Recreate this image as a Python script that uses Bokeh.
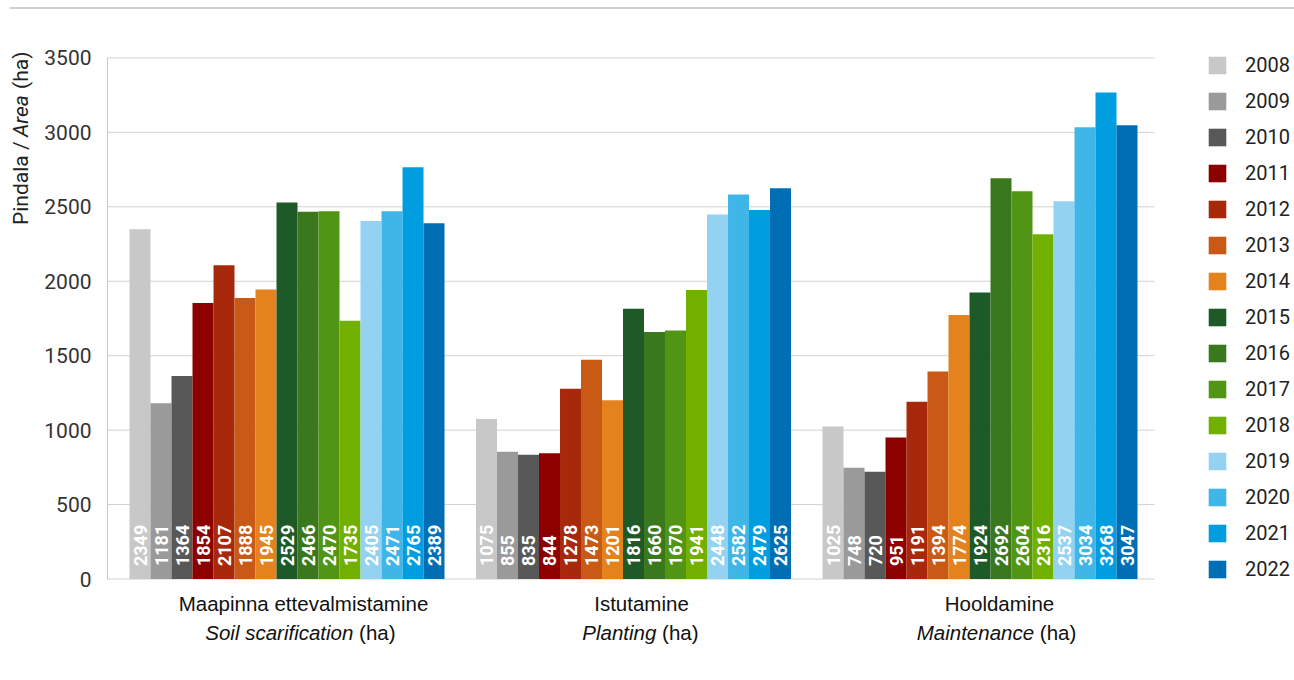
import math
from bokeh.plotting import figure
from bokeh.models import (ColumnDataSource, Legend, LegendItem, FixedTicker, Div, Range1d)
from bokeh.layouts import column
from bokeh.core.properties import value
from bokeh.embed import file_html
from bokeh.resources import INLINE

years = ["2008", "2009", "2010", "2011", "2012", "2013", "2014", "2015",
         "2016", "2017", "2018", "2019", "2020", "2021", "2022"]
colors = ["#c8c8c8", "#9a9a9a", "#585858", "#8c0000", "#a8280c", "#c85a16",
          "#e4821e", "#1e5a28", "#3a781e", "#509614", "#72b000", "#94d2f2",
          "#40b6e8", "#009ee0", "#006eb4"]
groups_et = ["Maapinna ettevalmistamine", "Istutamine", "Hooldamine"]
groups_en = ["Soil scarification", "Planting", "Maintenance"]
soil = [2349, 1181, 1364, 1854, 2107, 1888, 1945, 2529, 2466, 2470, 1735, 2405, 2471, 2765, 2389]
planting = [1075, 855, 835, 844, 1278, 1473, 1201, 1816, 1660, 1670, 1941, 2448, 2582, 2479, 2625]
maintenance = [1025, 748, 720, 951, 1191, 1394, 1774, 1924, 2692, 2604, 2316, 2537, 3034, 3268, 3047]
yticks = [0, 500, 1000, 1500, 2000, 2500, 3000, 3500]

series = [soil, planting, maintenance]
GROUP_STEP = 16.5
X_START = -1.548          # left edge of the plotting area (axis line)
AXIS_END = 48.31          # right end of the grid lines
FRAME_W, FRAME_H = 1185, 536
X_END = X_START + FRAME_W / 21.0
Y_START, Y_END = -30, 3570

xs, tops, cols, labs = [], [], [], []
for g, vals in enumerate(series):
    for j, v in enumerate(vals):
        xs.append(g * GROUP_STEP + j)
        tops.append(v)
        cols.append(colors[j])
        labs.append(str(v))
src = ColumnDataSource(dict(x=xs, top=tops, color=cols, label=labs))

p = figure(frame_width=FRAME_W, frame_height=FRAME_H, output_backend="svg",
           toolbar_location=None,
           x_range=Range1d(X_START, X_END), y_range=Range1d(Y_START, Y_END),
           min_border_left=107, min_border_right=0, min_border_top=38,
           min_border_bottom=80)
p.outline_line_color = None
p.background_fill_color = "white"
p.border_fill_color = "white"

# horizontal grid lines (limited to the plotting area, left of the legend)
p.segment(x0=[X_START] * len(yticks), x1=[AXIS_END] * len(yticks), y0=yticks, y1=yticks,
          line_color="#d2d2d2", line_width=1, level="underlay")

p.vbar(x="x", top="top", width=1.0, bottom=0, fill_color="color",
       line_color=None, source=src)

p.text(x="x", y=0, text="label", source=src, angle=math.pi / 2,
       text_align="left", text_baseline="middle", y_offset=-13,
       text_color="white", text_font=value("Roboto"),
       text_font_style="bold", text_font_size="18px")

p.xaxis.visible = False
p.xgrid.visible = False
p.ygrid.visible = False
p.yaxis.ticker = FixedTicker(ticks=yticks)
p.yaxis.bounds = (0, 3500)
p.yaxis.axis_line_color = "#c8c8c8"
p.yaxis.major_tick_line_color = None
p.yaxis.minor_tick_line_color = None
p.yaxis.major_label_standoff = 10
p.yaxis.major_label_text_font = "Roboto"
p.yaxis.major_label_text_font_size = "21px"
p.yaxis.major_label_text_color = "#333333"

# y-axis title (mixed italic), drawn at overlay level so it is not clipped
for txt, off, style in [("Pindala /", 354, "normal"), ("Area", 442, "italic"), ("(ha)", 490, "normal")]:
    p.text(x=[X_START], y=[0], text=[txt], x_offset=-87, y_offset=-off,
           angle=math.pi / 2, text_align="left", text_baseline="middle",
           text_font=value("Roboto"), text_font_size="21px",
           text_font_style=style, text_color="#222222", level="overlay")

# category labels
line1_off = [16.5, 8, 19.5]
split_off = [66.4, 22.9, 54.1]
centers = [g * GROUP_STEP + 7 for g in range(3)]
for g in range(3):
    cx = centers[g]
    p.text(x=[cx], y=[0], text=[groups_et[g]], x_offset=line1_off[g], y_offset=24,
           text_align="center", text_baseline="middle", text_font=value("Liberation Sans"),
           text_font_size="20.5px", text_color="#111111", level="overlay")
    p.text(x=[cx], y=[0], text=[groups_en[g]], x_offset=split_off[g], y_offset=53,
           text_align="right", text_baseline="middle", text_font=value("Liberation Sans"),
           text_font_size="20.5px", text_font_style="italic", text_color="#111111", level="overlay")
    p.text(x=[cx], y=[0], text=["(ha)"], x_offset=split_off[g] + 5.7, y_offset=53,
           text_align="left", text_baseline="middle", text_font=value("Liberation Sans"),
           text_font_size="20.5px", text_color="#111111", level="overlay")

# legend
items = []
for j, yname in enumerate(years):
    rr = p.rect(x=[-100], y=[-100], width=1, height=1, fill_color=colors[j], line_color=None)
    items.append(LegendItem(label=yname, renderers=[rr]))
legend = Legend(items=items, location=(1099, 2), orientation="vertical",
                glyph_width=22, glyph_height=22, label_height=22, spacing=12,
                padding=0, margin=0,
                label_standoff=17, label_text_font="Roboto", label_text_font_size="20px",
                label_text_color="#222222", label_text_baseline="middle",
                border_line_color=None, background_fill_alpha=0)
p.add_layout(legend, "center")

top_line = Div(text="", width=1284, height=2, margin=(7, 0, 0, 10),
               styles={"background-color": "#d0d0d0"})
layout = column(top_line, p, spacing=0)

open("out.html", "w").write(file_html(layout, INLINE))
